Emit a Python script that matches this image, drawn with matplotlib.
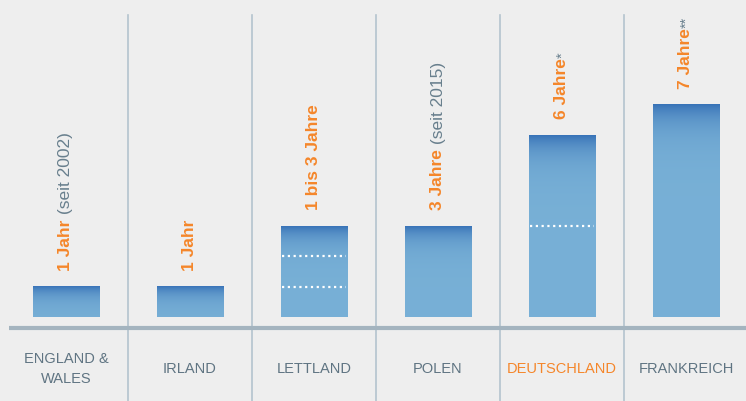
import numpy as np
import matplotlib
matplotlib.use('Agg')
from matplotlib import pyplot as plt

plt.rcParams['font.family'] = ['Liberation Sans', 'DejaVu Sans']

# Daten
countries = ['ENGLAND &\nWALES', 'IRLAND', 'LETTLAND', 'POLEN', 'DEUTSCHLAND', 'FRANKREICH']
years = [1, 1, 3, 3, 6, 7]
main_labels = ['1 Jahr', '1 Jahr', '1 bis 3 Jahre', '3 Jahre', '6 Jahre', '7 Jahre']
notes = ['(seit 2002)', '', '', '(seit 2015)', '', '']
stars = ['', '', '', '', '*', '**']
dividers = [[], [], [1, 2], [], [3], []]
highlight = 'DEUTSCHLAND'

orange = '#f5862a'
gray_txt = '#687f8d'
bg = '#eeeeee'
dark = np.array([0.22, 0.45, 0.72])
light = np.array([0.47, 0.69, 0.84])

fig = plt.figure(figsize=(7.46, 4.02), dpi=100, facecolor=bg)
ax = fig.add_axes([0, 0, 1, 1])
ax.set_facecolor(bg)
ax.axis('off')

px_per_year = 30.3
xmin, xmax = -66 / 124, (746 - 66) / 124
ymin, ymax = -(402 - 318) / px_per_year, 318 / px_per_year
bar_w = 0.54

# Trennlinien
for i in range(len(countries) - 1):
    ax.plot([i + 0.5, i + 0.5], [ymin, (318 - 16) / px_per_year], color='#b4c3ce',
            lw=1.2, zorder=1)

# Grundlinie
ax.plot([xmin + 9 / 124, xmax], [-11 / px_per_year] * 2, color='#a4b4bf', lw=3,
        zorder=2, solid_capstyle='butt')

# Balken mit Verlauf
for i, v in enumerate(years):
    n = 300
    y = np.linspace(0, v, n)
    d = v - y
    k = 0.25 + 0.05 * v
    t = np.exp(-d / k)[:, None]
    img = light[None, :] * (1 - t) + dark[None, :] * t
    img = img[::-1][:, None, :]
    ax.imshow(img, extent=[i - bar_w / 2, i + bar_w / 2, 0, v], aspect='auto',
              origin='upper', zorder=3, interpolation='bilinear')
    for dv in dividers[i]:
        ax.plot([i - bar_w / 2 + 0.01, i + bar_w / 2 - 0.01], [dv, dv], color='white',
                lw=1.6, ls=(0, (1, 1.6)), zorder=4)

ax.set_xlim(xmin, xmax)
ax.set_ylim(ymin, ymax)

# Beschriftungen über den Balken
gap = 17 / px_per_year
for i, v in enumerate(years):
    t1 = ax.text(i, v + gap, main_labels[i], rotation=90, ha='center', va='bottom',
                 color=orange, fontsize=12.5, fontweight='bold', zorder=5)
    if notes[i]:
        ax.annotate(' ' + notes[i], xy=(0.5, 1), xycoords=t1, rotation=90,
                    ha='center', va='bottom', color=gray_txt, fontsize=12.5)
    if stars[i]:
        ax.annotate(stars[i], xy=(0.05, 1), xycoords=t1, rotation=90,
                    ha='left', va='bottom', color=gray_txt, fontsize=10.5)

# Länderbeschriftungen
for i, c in enumerate(countries):
    ax.text(i, -51 / px_per_year, c, ha='center', va='center', fontsize=10.5,
            linespacing=1.5, color=orange if c == highlight else '#5f7482')

fig.savefig('out.png', dpi=100, facecolor=bg)
